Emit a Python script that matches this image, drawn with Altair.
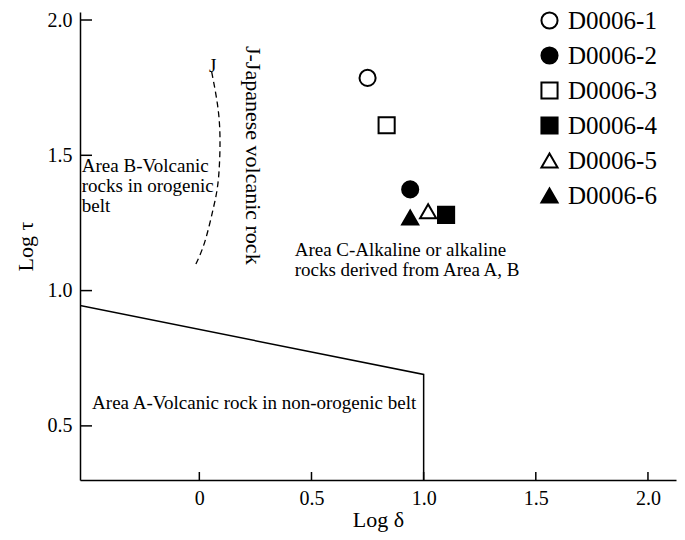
import altair as alt
import pandas as pd

# ---- data ----
samples = ["D0006-1", "D0006-2", "D0006-3", "D0006-4", "D0006-5", "D0006-6"]
log_delta = [0.75, 0.94, 0.835, 1.10, 1.02, 0.94]
log_tau = [1.786, 1.374, 1.611, 1.280, 1.293, 1.270]
shapes = ["circle", "circle", "square", "square", "triangle-up", "triangle-up"]
fills = ["white", "black", "white", "black", "white", "black"]
strokes = ["black"] * 6

# boundary of Area A (solid)
bound_x = [-0.532, 1.0, 1.0]
bound_y = [0.945, 0.690, 0.30]

# dashed J curve
curve_x = [0.055, 0.080, 0.092, 0.085, 0.062, 0.025, -0.016]
curve_y = [1.808, 1.693, 1.567, 1.412, 1.303, 1.182, 1.097]

x_ticks = [0, 0.5, 1.0, 1.5, 2.0]
y_ticks = [0.5, 1.0, 1.5, 2.0]

labels_text = [
    "Area B-Volcanic\nrocks in orogenic\nbelt",
    "Area C-Alkaline or alkaline\n rocks derived from Area A, B",
    "Area A-Volcanic rock in non-orogenic belt",
    "J",
]
labels_x = [-0.524, 0.425, -0.478, 0.043]
labels_y = [1.46, 1.15, 0.585, 1.83]

vert_text = ["J-Japanese volcanic rock"]
vert_x = [0.238]
vert_y = [1.50]

X_DOM = [-0.532, 2.125]
Y_DOM = [0.30, 2.0296]
FONT = "Liberation Serif"
W, H = 596, 468

def X(**kw):
    return alt.X("x:Q", scale=alt.Scale(domain=X_DOM, nice=False, zero=False), **kw)

def Y(**kw):
    return alt.Y("y:Q", scale=alt.Scale(domain=Y_DOM, nice=False, zero=False), **kw)

x_axis = alt.Axis(values=x_ticks, ticks=False, grid=False, labelPadding=8,
                  labelExpr="datum.value == 0 ? '0' : format(datum.value, '.1f')",
                  title="Log δ", titlePadding=1)
y_axis = alt.Axis(values=y_ticks, ticks=False, grid=False, labelPadding=8,
                  labelExpr="format(datum.value, '.1f')",
                  title="Log τ", titlePadding=10)

LEG = dict(title=None, orient="none", legendX=457, legendY=-4)

pts = pd.DataFrame({"sample": samples, "x": log_delta, "y": log_tau})
points = alt.Chart(pts).mark_point(filled=True, strokeWidth=2, size=260, opacity=1).encode(
    x=X(axis=x_axis),
    y=Y(axis=y_axis),
    shape=alt.Shape("sample:N", scale=alt.Scale(domain=samples, range=shapes),
                    legend=alt.Legend(**LEG)),
    fill=alt.Fill("sample:N", scale=alt.Scale(domain=samples, range=fills),
                  legend=alt.Legend(**LEG)),
    stroke=alt.Stroke("sample:N", scale=alt.Scale(domain=samples, range=strokes),
                      legend=alt.Legend(**LEG)),
)

bdf = pd.DataFrame({"x": bound_x, "y": bound_y, "o": range(len(bound_x))})
boundary = alt.Chart(bdf).mark_line(color="black", strokeWidth=1.5, clip=True).encode(
    x=X(), y=Y(), order="o:Q")

cdf = pd.DataFrame({"x": curve_x, "y": curve_y, "o": range(len(curve_x))})
curve = alt.Chart(cdf).mark_line(color="black", strokeWidth=1.3, strokeDash=[6, 4],
                                 interpolate="natural").encode(
    x=X(), y=Y(), order="o:Q")

tdf = pd.DataFrame({"x": labels_x, "y": labels_y, "t": labels_text})
texts = alt.Chart(tdf).mark_text(font=FONT, fontSize=19, align="left", baseline="middle",
                                 lineBreak="\n", lineHeight=20, color="black").encode(
    x=X(), y=Y(), text="t:N")

vdf = pd.DataFrame({"x": vert_x, "y": vert_y, "t": vert_text})
vtext = alt.Chart(vdf).mark_text(font=FONT, fontSize=22, angle=90, align="center",
                                 baseline="middle", color="black").encode(
    x=X(), y=Y(), text="t:N")

ytdf = pd.DataFrame({"y": y_ticks})
yticks = alt.Chart(ytdf).mark_rule(color="black", strokeWidth=1.5).encode(
    y=Y(), x=alt.value(0), x2=alt.value(12))

xtdf = pd.DataFrame({"x": x_ticks})
xticks = alt.Chart(xtdf).mark_rule(color="black", strokeWidth=1.5).encode(
    x=X(), y=alt.value(H), y2=alt.value(H - 8))

chart = alt.layer(boundary, curve, texts, vtext, yticks, xticks, points).properties(
    width=W, height=H,
    autosize=alt.AutoSizeParams(type="none"),
    padding={"left": 72, "top": 4, "right": 1, "bottom": 52},
).configure_view(stroke=None).configure_axis(
    domainColor="black", domainWidth=1.5, labelFont=FONT, labelFontSize=20,
    labelColor="black", titleFont=FONT, titleFontSize=22, titleFontWeight="normal",
    titleColor="black",
).configure_legend(
    labelFont=FONT, labelFontSize=25, labelColor="black", symbolSize=260,
    symbolStrokeWidth=2, rowPadding=9, labelOffset=6, symbolOffset=0,
)

chart.save("out.html", embed_options={"renderer": "svg", "actions": False})
